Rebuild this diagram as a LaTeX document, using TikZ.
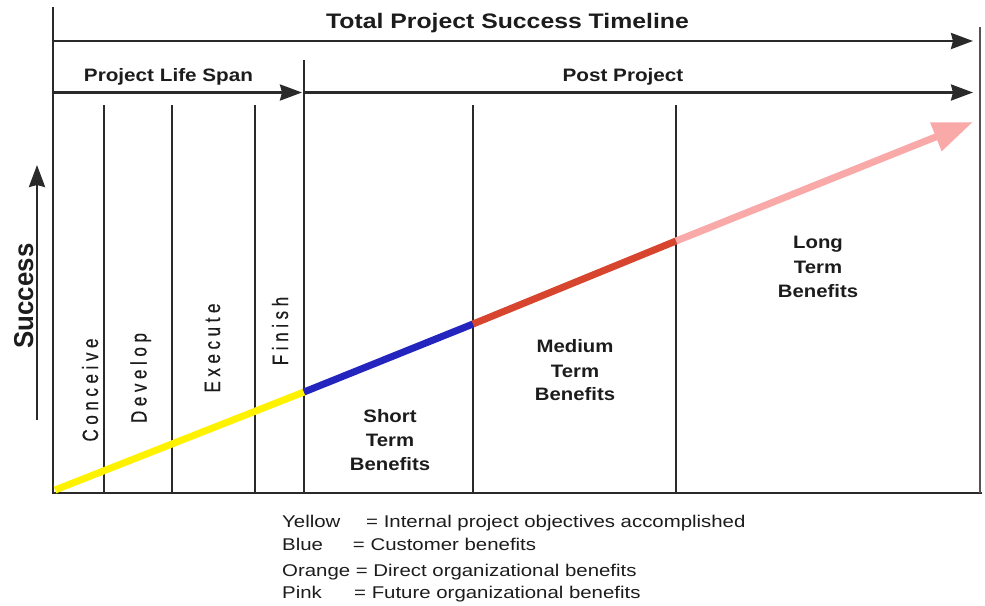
\documentclass[tikz,border=0pt]{standalone}
\usepackage{fontspec}
\setmainfont{Liberation Sans}
\usepackage{graphicx}
\usetikzlibrary{arrows.meta}
\definecolor{ink}{HTML}{1C1C1C}
\definecolor{rule}{HTML}{2A2A2A}
\definecolor{ruleR}{HTML}{555555}
\definecolor{cYellow}{HTML}{FFF200}
\definecolor{cBlue}{HTML}{2424BE}
\definecolor{cOrange}{HTML}{D8452E}
\definecolor{cPink}{HTML}{F9A9A8}
\newcommand{\hs}[2]{\scalebox{#1}[1]{#2}}
\newcommand{\vs}[2]{\scalebox{1}[#1]{#2}}
\begin{document}
\begin{tikzpicture}[x=1pt,y=-1pt,
  axisline/.style={line width=2.6pt, draw=rule},
  thinline/.style={line width=1.4pt, draw=rule},
  headline/.style={line width=2.6pt, draw=rule, -{Stealth[length=22pt,width=16pt,inset=2pt]}},
  titletext/.style={inner sep=0pt, anchor=base, text=ink, font=\fontsize{21}{24}\selectfont\bfseries},
  lbl/.style={inner sep=0pt, anchor=base, text=ink, font=\fontsize{18}{20}\selectfont\bfseries},
  phase/.style={inner sep=0pt, anchor=base, rotate=90, text=ink, font=\fontsize{17}{20}\selectfont\addfontfeature{LetterSpace=27,FakeBold=0.6}},
  legendtext/.style={inner sep=0pt, anchor=base west, text=ink, font=\fontsize{17}{20}\selectfont},
  seg/.style={line width=7pt}
]
\useasboundingbox (0,0) rectangle (985,605);

% frame coordinates
\coordinate (LT) at (53,7);
\coordinate (LB) at (53,493);
\coordinate (RT) at (980,27);
\coordinate (RB) at (982,493);
\coordinate (A1s) at (53,41);
\coordinate (A1e) at (973,41);
\coordinate (A2s) at (53,92.5);
\coordinate (A2m) at (302,92.5);
\coordinate (A2n) at (304,92.5);
\coordinate (A2e) at (973,92.5);
\coordinate (PT) at (304,60);
\coordinate (PB) at (304,493);
\foreach \n/\x in {c1/104,c2/172,c3/255,c4/473,c5/676}{
  \coordinate (\n t) at (\x,105);
  \coordinate (\n b) at (\x,493);
}

% frame
\draw[axisline] (LT) -- (LB) -- (RB);
\draw[line width=2pt, draw=ruleR] (RT) -- (980,493);
\draw[headline] (A1s) -- (A1e);
\draw[headline] (A2s) -- (A2m);
\draw[headline] (A2n) -- (A2e);
\draw[line width=1.8pt, draw=rule] (PT) -- (PB);
\foreach \n in {c1,c2,c3,c4,c5}{
  \draw[thinline] (\n t) -- (\n b);
}

% success arrow
\coordinate (S0) at (37,420);
\coordinate (S1) at (37,165);
\draw[line width=2.6pt, draw=rule, -{Stealth[length=22pt,width=16pt,inset=2pt]}] (S0) -- (S1);

% success curve
\coordinate (P0) at (55,490);
\coordinate (P1) at (304,392);
\coordinate (P2) at (473,324);
\coordinate (P3) at (676,241);
\coordinate (P4) at (973,122);
\draw[seg, draw=cYellow] (P0) -- (P1);
\draw[seg, draw=cBlue] (P1) -- (P2);
\draw[seg, draw=cOrange] (P2) -- (P3);
\draw[seg, draw=cPink, -{Triangle[length=40pt,width=29pt]}] (P3) -- (P4);

% titles
\node[titletext] (title) at (507.5,28) {\hs{1.18}{Total Project Success Timeline}};
\node[lbl] (pls) at (168.5,81) {\hs{1.15}{Project Life Span}};
\node[lbl] (pp) at (623,81) {\hs{1.15}{Post Project}};

% axis label
\node[inner sep=0pt, anchor=base, rotate=90, text=ink, font=\fontsize{21}{24}\selectfont\bfseries] (succ) at (33,296) {\scalebox{1.23}[1.3]{Success}};

% phases
\node[phase] (conceive) at (98,390) {\vs{1.3}{Conceive}};
\node[phase] (develop) at (146.5,378) {\vs{1.3}{Develop}};
\node[phase] (execute) at (220,348) {\vs{1.3}{Execute}};
\node[phase] (finish) at (288,331) {\vs{1.3}{Finish}};

% benefit labels
\node[lbl] (st1) at (390,422.7) {\hs{1.13}{Short}};
\node[lbl] (st2) at (390,446) {\hs{1.13}{Term}};
\node[lbl] (st3) at (390,470) {\hs{1.13}{Benefits}};
\node[lbl] (mt1) at (575,352.7) {\hs{1.13}{Medium}};
\node[lbl] (mt2) at (575,377.5) {\hs{1.13}{Term}};
\node[lbl] (mt3) at (575,400.7) {\hs{1.13}{Benefits}};
\node[lbl] (lt1) at (818,248) {\hs{1.13}{Long}};
\node[lbl] (lt2) at (818,273) {\hs{1.13}{Term}};
\node[lbl] (lt3) at (818,297) {\hs{1.13}{Benefits}};

% legend
\node[legendtext] (lg1) at (282,527.3) {\hs{1.2}{\makebox[70pt][l]{Yellow}= Internal project objectives accomplished}};
\node[legendtext] (lg2) at (282,550.7) {\hs{1.2}{\makebox[59pt][l]{Blue}= Customer benefits}};
\node[legendtext] (lg3) at (282,576) {\hs{1.2}{Orange = Direct organizational benefits}};
\node[legendtext] (lg4) at (282,598) {\hs{1.2}{\makebox[60pt][l]{Pink}= Future organizational benefits}};
\end{tikzpicture}
\end{document}
